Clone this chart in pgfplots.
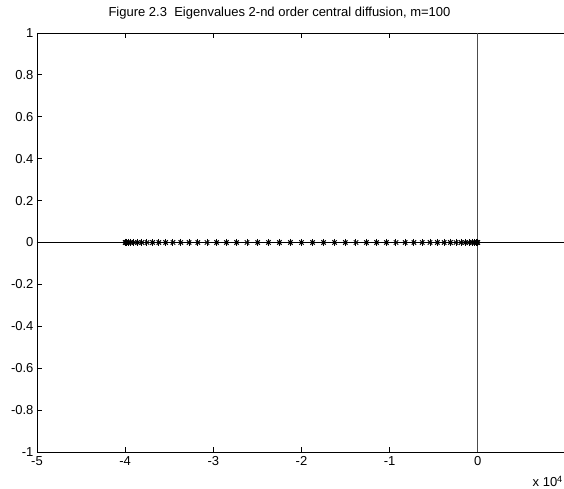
\documentclass[border=0pt]{standalone}
\usepackage{fontspec}
\setmainfont{Liberation Sans}
\usepackage{pgfplots}
\usepackage{pgfplotstable}
\pgfplotsset{compat=1.18}
\pgfplotstableread{
x y
0 0
-0.003946 0
-0.01577 0
-0.035426 0
-0.062834 0
-0.097886 0
-0.140448 0
-0.190346 0
-0.247386 0
-0.311344 0
-0.381966 0
-0.458974 0
-0.542062 0
-0.630906 0
-0.725152 0
-0.82443 0
-0.928346 0
-1.036492 0
-1.148442 0
-1.26375 0
-1.381966 0
-1.50262 0
-1.625238 0
-1.749334 0
-1.874418 0
-2 0
-2.125582 0
-2.250666 0
-2.374762 0
-2.49738 0
-2.618034 0
-2.73625 0
-2.851558 0
-2.963508 0
-3.071654 0
-3.17557 0
-3.274848 0
-3.369094 0
-3.457938 0
-3.541026 0
-3.618034 0
-3.688656 0
-3.752614 0
-3.809654 0
-3.859552 0
-3.902114 0
-3.937166 0
-3.964574 0
-3.98423 0
-3.996054 0
-4 0
}\eig
\begin{document}
\begin{tikzpicture}
\path[use as bounding box] (0pt,0pt) rectangle (564pt,489pt);
\begin{axis}[
  at={(37pt,37pt)}, anchor=south west,
  scale only axis, width=529pt, height=419pt,
  xmin=-5, xmax=1, ymin=-1, ymax=1,
  xtick={-5,-4,-3,-2,-1,0},
  xticklabels={-5,-4,-3,-2,-1,0},
  ytick={-1,-0.8,-0.6,-0.4,-0.2,0,0.2,0.4,0.6,0.8,1},
  yticklabels={-1,-0.8,-0.6,-0.4,-0.2,0,0.2,0.4,0.6,0.8,1},
  ytick pos=left,
  tick align=inside, major tick length=5pt,
  tick style={black, line width=0.8pt},
  axis line style={line width=0.9pt},
  every tick label/.append style={font=\fontsize{13}{15}\selectfont},
  xticklabel style={yshift=-1pt},
  clip=false,
]
\addplot[black, line width=0.8pt, forget plot] coordinates {(-5,0) (1,0)};
\addplot[black!70, line width=1.2pt, forget plot] coordinates {(0,-1) (0,1)};
\addplot[only marks, mark=+, mark size=3.6pt, black, mark options={line width=1pt}] table[x=x,y=y] {\eig};
\addplot[only marks, mark=x, mark size=3.1pt, black, mark options={line width=1pt}] table[x=x,y=y] {\eig};
\end{axis}
\node[font=\fontsize{13}{15}\selectfont, anchor=base] at (279.5pt,472pt) {Figure 2.3\ \ Eigenvalues 2-nd order central diffusion, m=100};
\node[font=\fontsize{13}{15}\selectfont, anchor=base east, inner sep=0pt] at (563pt,2pt) {x 10$^{\mathrm{4}}$};
\end{tikzpicture}
\end{document}
